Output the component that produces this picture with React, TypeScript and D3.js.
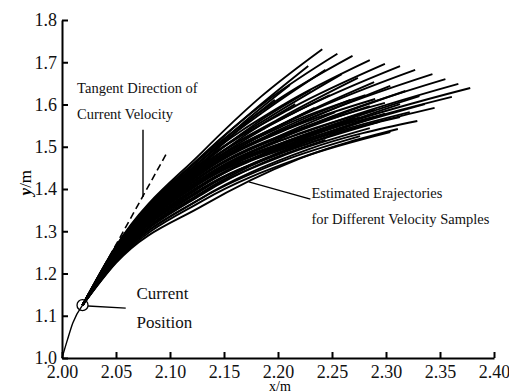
import React, { useEffect, useRef } from "react";
import * as d3 from "d3";

const xTicks = [2.0, 2.05, 2.1, 2.15, 2.2, 2.25, 2.3, 2.35, 2.4];
const yTicks = [1.0, 1.1, 1.2, 1.3, 1.4, 1.5, 1.6, 1.7, 1.8];

const currentPosition: [number, number] = [2.019, 1.125];
const pastPath: [number, number][] = [
  [2.0, 1.0],
  [2.005, 1.043],
  [2.01, 1.083],
  [2.019, 1.125],
];
const tangentLine: [number, number][] = [
  [2.019, 1.125],
  [2.097, 1.485],
];

// each trajectory after the current position: point near x=2.05, near x=2.13, a middle point, end point
const outerTrajectories: [number, number][][] = [
  [[2.05, 1.265], [2.13, 1.488], [2.184, 1.618], [2.241, 1.731]],
  [[2.05, 1.263], [2.13, 1.48], [2.191, 1.611], [2.255, 1.72]],
  [[2.05, 1.263], [2.13, 1.476], [2.198, 1.608], [2.269, 1.715]],
  [[2.05, 1.26], [2.13, 1.469], [2.206, 1.601], [2.285, 1.705]],
  [[2.05, 1.258], [2.13, 1.462], [2.213, 1.592], [2.299, 1.696]],
  [[2.05, 1.256], [2.13, 1.454], [2.22, 1.587], [2.313, 1.691]],
  [[2.05, 1.253], [2.13, 1.447], [2.227, 1.58], [2.327, 1.682]],
  [[2.05, 1.251], [2.13, 1.44], [2.235, 1.573], [2.343, 1.672]],
  [[2.05, 1.249], [2.13, 1.433], [2.241, 1.563], [2.355, 1.66]],
  [[2.05, 1.246], [2.13, 1.426], [2.247, 1.554], [2.367, 1.649]],
  [[2.05, 1.244], [2.13, 1.419], [2.253, 1.547], [2.378, 1.639]],
  [[2.05, 1.239], [2.13, 1.409], [2.244, 1.533], [2.361, 1.618]],
  [[2.05, 1.234], [2.13, 1.398], [2.237, 1.516], [2.345, 1.592]],
  [[2.05, 1.23], [2.13, 1.38], [2.228, 1.494], [2.329, 1.561]],
  [[2.05, 1.225], [2.13, 1.36], [2.22, 1.472], [2.311, 1.542]],
];

const innerTrajectoriesA: [number, number][][] = [
  [[2.05, 1.263], [2.13, 1.478], [2.178, 1.587], [2.228, 1.691]],
  [[2.05, 1.26], [2.13, 1.471], [2.185, 1.58], [2.244, 1.682]],
  [[2.05, 1.258], [2.13, 1.464], [2.194, 1.573], [2.259, 1.672]],
  [[2.05, 1.256], [2.13, 1.457], [2.201, 1.566], [2.274, 1.663]],
  [[2.05, 1.253], [2.13, 1.45], [2.208, 1.559], [2.289, 1.653]],
  [[2.05, 1.251], [2.13, 1.443], [2.216, 1.551], [2.304, 1.644]],
  [[2.05, 1.249], [2.13, 1.433], [2.222, 1.542], [2.318, 1.632]],
  [[2.05, 1.244], [2.13, 1.424], [2.23, 1.533], [2.331, 1.62]],
  [[2.05, 1.239], [2.13, 1.409], [2.22, 1.516], [2.313, 1.601]],
  [[2.05, 1.234], [2.13, 1.393], [2.213, 1.497], [2.299, 1.578]],
];

const innerTrajectoriesB: [number, number][][] = [
  [[2.05, 1.26], [2.13, 1.469], [2.169, 1.559], [2.211, 1.646]],
  [[2.05, 1.258], [2.13, 1.459], [2.179, 1.554], [2.23, 1.634]],
  [[2.05, 1.256], [2.13, 1.45], [2.188, 1.544], [2.248, 1.622]],
  [[2.05, 1.253], [2.13, 1.44], [2.197, 1.535], [2.267, 1.611]],
  [[2.05, 1.249], [2.13, 1.426], [2.206, 1.523], [2.285, 1.596]],
  [[2.05, 1.241], [2.13, 1.407], [2.202, 1.502], [2.276, 1.57]],
];

const innerTrajectoriesC: [number, number][][] = [
  [[2.05, 1.258], [2.13, 1.462], [2.165, 1.544], [2.197, 1.611]],
  [[2.05, 1.256], [2.13, 1.452], [2.174, 1.535], [2.216, 1.601]],
  [[2.05, 1.253], [2.13, 1.443], [2.183, 1.525], [2.234, 1.592]],
  [[2.05, 1.251], [2.13, 1.433], [2.193, 1.516], [2.253, 1.582]],
  [[2.05, 1.246], [2.13, 1.421], [2.202, 1.507], [2.271, 1.568]],
  [[2.05, 1.241], [2.13, 1.412], [2.197, 1.492], [2.262, 1.554]],
  [[2.05, 1.237], [2.13, 1.4], [2.193, 1.478], [2.253, 1.535]],
  [[2.05, 1.232], [2.13, 1.388], [2.188, 1.464], [2.244, 1.516]],
];

const innerTrajectoriesD: [number, number][][] = [
  [[2.05, 1.239], [2.13, 1.402], [2.211, 1.492], [2.294, 1.559]],
  [[2.05, 1.234], [2.13, 1.391], [2.206, 1.48], [2.285, 1.544]],
  [[2.05, 1.23], [2.13, 1.379], [2.202, 1.464], [2.276, 1.525]],
  [[2.05, 1.227], [2.13, 1.372], [2.22, 1.473], [2.304, 1.535]],
  [[2.05, 1.244], [2.13, 1.417], [2.22, 1.509], [2.322, 1.582]],
  [[2.05, 1.246], [2.13, 1.426], [2.23, 1.521], [2.336, 1.601]],
];

const innerTrajectoriesE: [number, number][][] = [
  [[2.05, 1.253], [2.13, 1.445], [2.206, 1.551], [2.281, 1.622]],
  [[2.05, 1.251], [2.13, 1.438], [2.211, 1.544], [2.29, 1.613]],
  [[2.05, 1.249], [2.13, 1.431], [2.216, 1.537], [2.299, 1.604]],
  [[2.05, 1.246], [2.13, 1.424], [2.211, 1.523], [2.29, 1.587]],
  [[2.05, 1.244], [2.13, 1.417], [2.216, 1.516], [2.299, 1.578]],
  [[2.05, 1.241], [2.13, 1.409], [2.225, 1.511], [2.313, 1.57]],
];

const pointerLines: [number, number][][] = [
  [[2.075, 1.54], [2.075, 1.381]],
  [[2.173, 1.417], [2.23, 1.376]],
  [[2.024, 1.123], [2.059, 1.118]],
];

const annotations = [
  { text: "Tangent Direction of", x: 2.014, y: 1.627, size: 14.5 },
  { text: "Current Velocity", x: 2.014, y: 1.566, size: 14.5 },
  { text: "Current", x: 2.069, y: 1.14, size: 17 },
  { text: "Position", x: 2.069, y: 1.071, size: 17 },
  { text: "Estimated Erajectories", x: 2.231, y: 1.379, size: 14.5 },
  { text: "for Different Velocity Samples", x: 2.231, y: 1.317, size: 14.5 },
];

const FONT = "Liberation Serif, Times New Roman, DejaVu Serif, serif";

const App = () => {
  const svgRef = useRef<SVGSVGElement>(null);
  const width = 509;
  const height = 392;

  useEffect(() => {
    const svg = d3.select(svgRef.current);
    svg.selectAll("*").remove();

    const x = d3.scaleLinear().domain([2.0, 2.4]).range([62, 494]);
    const y = d3.scaleLinear().domain([1.0, 1.8]).range([358, 20]);

    const line = d3
      .line<[number, number]>()
      .x((d) => x(d[0]))
      .y((d) => y(d[1]));
    const smooth = d3
      .line<[number, number]>()
      .x((d) => x(d[0]))
      .y((d) => y(d[1]))
      .curve(d3.curveMonotoneX);

    // axes
    const gx = svg
      .append("g")
      .attr("transform", `translate(0,${y(1.0)})`)
      .call(
        d3
          .axisBottom(x)
          .tickValues(xTicks)
          .tickFormat(d3.format(".2f"))
          .tickSizeInner(-6)
          .tickSizeOuter(0)
          .tickPadding(7)
      );
    const gy = svg
      .append("g")
      .attr("transform", `translate(${x(2.0)},0)`)
      .call(
        d3
          .axisLeft(y)
          .tickValues(yTicks)
          .tickFormat(d3.format(".1f"))
          .tickSizeInner(-6)
          .tickSizeOuter(0)
          .tickPadding(5)
      );
    [gx, gy].forEach((g) => {
      g.attr("font-family", FONT).attr("font-size", 18);
      g.select(".domain").attr("stroke", "#000").attr("stroke-width", 2);
      g.selectAll(".tick line").attr("stroke", "#000").attr("stroke-width", 2);
      g.selectAll(".tick text").attr("fill", "#111");
    });

    // axis titles
    svg
      .append("text")
      .attr("x", x(2.2) + 2)
      .attr("y", 391)
      .attr("text-anchor", "middle")
      .attr("font-size", 14)
      .text("x/m");

    const yt = svg
      .append("text")
      .attr("transform", `translate(31,${y(1.415)}) rotate(-90)`)
      .attr("text-anchor", "middle")
      .attr("font-size", 17);
    yt.append("tspan").attr("font-style", "italic").attr("font-weight", "bold").text("y");
    yt.append("tspan").text("/m");

    // past motion
    svg
      .append("path")
      .attr("d", smooth(pastPath))
      .attr("fill", "none")
      .attr("stroke", "#000")
      .attr("stroke-width", 1.4);

    // tangent direction
    svg
      .append("path")
      .attr("d", line(tangentLine))
      .attr("fill", "none")
      .attr("stroke", "#000")
      .attr("stroke-width", 1.6)
      .attr("stroke-dasharray", "7,4");

    // estimated trajectories
    const all = [
      ...outerTrajectories,
      ...innerTrajectoriesA,
      ...innerTrajectoriesB,
      ...innerTrajectoriesC,
      ...innerTrajectoriesD,
      ...innerTrajectoriesE,
    ];
    svg
      .append("g")
      .selectAll("path")
      .data(all)
      .join("path")
      .attr("d", (d) => smooth([currentPosition, ...d]))
      .attr("fill", "none")
      .attr("stroke", "#000")
      .attr("stroke-width", 1.9);

    // current position marker
    svg
      .append("circle")
      .attr("cx", x(currentPosition[0]))
      .attr("cy", y(currentPosition[1]))
      .attr("r", 5.5)
      .attr("fill", "none")
      .attr("stroke", "#000")
      .attr("stroke-width", 1.3);

    // pointer lines
    svg
      .append("g")
      .selectAll("path")
      .data(pointerLines)
      .join("path")
      .attr("d", (d) => line(d))
      .attr("stroke", "#000")
      .attr("stroke-width", 1.4);

    // annotation texts
    svg
      .append("g")
      .selectAll("text")
      .data(annotations)
      .join("text")
      .attr("x", (d) => x(d.x))
      .attr("y", (d) => y(d.y))
      .attr("font-size", (d) => d.size)
      .attr("fill", "#111")
      .text((d) => d.text);
  }, []);

  return (
    <svg
      ref={svgRef}
      width={width}
      height={height}
      fontFamily={FONT}
      style={{ position: "absolute", left: 0, top: 0, background: "#fff" }}
    ></svg>
  );
};

export default App;
